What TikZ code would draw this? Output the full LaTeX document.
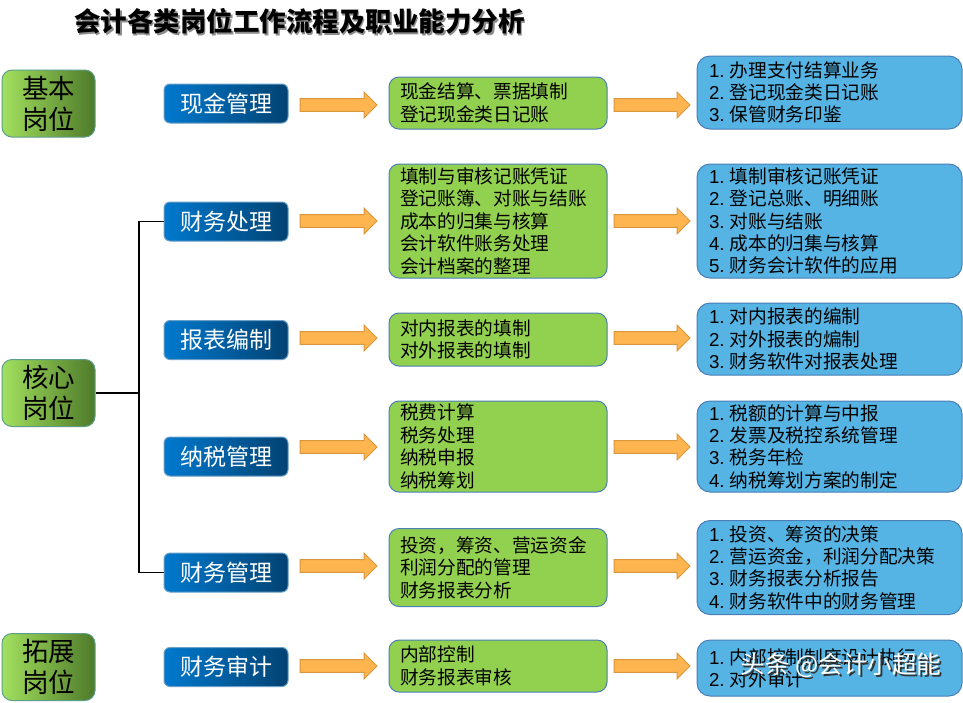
\documentclass[tikz,border=0pt]{standalone}
\usepackage{fontspec}
\setmainfont{Noto Sans CJK SC}
\newfontfamily\latfont{Liberation Sans}
\newcommand{\nm}[1]{{\latfont #1.}\hspace{5pt}}
\definecolor{catL}{HTML}{A2E05E}
\definecolor{catR}{HTML}{4E7A2A}
\definecolor{catB}{HTML}{5C9E8A}
\definecolor{dbL}{HTML}{0079CE}
\definecolor{dbR}{HTML}{024272}
\definecolor{dbB}{HTML}{6A9FC8}
\definecolor{grF}{HTML}{92D050}
\definecolor{boxB}{HTML}{4A7EB5}
\definecolor{lbF}{HTML}{56B4E4}
\definecolor{arF}{HTML}{FFB54F}
\definecolor{arB}{HTML}{D9963A}
\newcommand{\myarrow}[3]{%
  \draw[blockarr] (#1,#3-6.3) -- (#2-13,#3-6.3) -- (#2-13,#3-13) -- (#2,#3)
    -- (#2-13,#3+13) -- (#2-13,#3+6.3) -- (#1,#3+6.3) -- cycle;}
\tikzset{
  catbox/.style={draw=catB, line width=1pt, rounded corners=10pt, left color=catL, right color=catR,
    minimum width=93pt, minimum height=67pt, inner sep=0pt, align=center,
    font=\fontsize{26.5}{31}\selectfont},
  darkbox/.style={draw=dbB, line width=1pt, rounded corners=6pt, left color=dbL, right color=dbR,
    minimum width=124pt, minimum height=39pt, inner sep=0pt, text=white,
    font=\fontsize{23}{28}\selectfont},
  greenbox/.style={draw=boxB, line width=1pt, rounded corners=10pt, fill=grF,
    minimum width=218pt, inner xsep=11pt, inner ysep=0pt, text width=196pt, align=left,
    font=\fontsize{18.7}{22.5}\selectfont},
  lbbox/.style={draw=boxB, line width=1pt, rounded corners=13pt, fill=lbF,
    minimum width=265pt, inner xsep=12pt, inner ysep=0pt, text width=241pt, align=left,
    font=\fontsize{18.7}{22.3}\selectfont},
  blockarr/.style={draw=arB, line width=1pt, fill=arF, line join=miter},
  conn/.style={draw=black, line width=1.4pt}
}
\begin{document}
\begin{tikzpicture}[x=1pt,y=-1pt]
\useasboundingbox[fill=white] (0,0) rectangle (963,702);
% title
\node[font=\fontsize{26.5}{30}\selectfont\bfseries, text=black!45] (tshadow) at (301,23.5) {会计各类岗位工作流程及职业能力分析};
\node[font=\fontsize{26.5}{30}\selectfont\bfseries] (title) at (299.5,21) {会计各类岗位工作流程及职业能力分析};
% categories
\node[catbox] (c1) at (48.5,103.5) {基本\\岗位};
\node[catbox] (c2) at (48.5,393) {核心\\岗位};
\node[catbox] (c3) at (48.5,667) {拓展\\岗位};
% dark blue boxes
\node[darkbox] (d1) at (226,103.5) {现金管理};
\node[darkbox] (d2) at (226,221.5) {财务处理};
\node[darkbox] (d3) at (226,340) {报表编制};
\node[darkbox] (d4) at (226,456.5) {纳税管理};
\node[darkbox] (d5) at (226,572.5) {财务管理};
\node[darkbox] (d6) at (226,667) {财务审计};
% connectors
\coordinate (j) at (139,393);
\draw[conn] (c2.east) -- (j);
\draw[conn] (d2.west) -| (j) |- (d5.west);
% green boxes
\node[greenbox, minimum height=52pt] (g1) at (498,103) {现金结算、票据填制\\登记现金类日记账};
\node[greenbox, minimum height=114pt] (g2) at (498,221) {填制与审核记账凭证\\登记账簿、对账与结账\\成本的归集与核算\\会计软件账务处理\\会计档案的整理};
\node[greenbox, minimum height=53pt] (g3) at (498,339.5) {对内报表的填制\\对外报表的填制};
\node[greenbox, minimum height=91pt] (g4) at (498,446.5) {税费计算\\税务处理\\纳税申报\\纳税筹划};
\node[greenbox, minimum height=78pt] (g5) at (498,567.5) {投资，筹资、营运资金\\利润分配的管理\\财务报表分析};
\node[greenbox, minimum height=52pt] (g6) at (498,666) {内部控制\\财务报表审核};
% light blue boxes
\node[lbbox, minimum height=73pt] (b1) at (829.5,92.5) {\nm1办理支付结算业务\\\nm2登记现金类日记账\\\nm3保管财务印鉴};
\node[lbbox, minimum height=114pt] (b2) at (829.5,221) {\nm1填制审核记账凭证\\\nm2登记总账、明细账\\\nm3对账与结账\\\nm4成本的归集与核算\\\nm5财务会计软件的应用};
\node[lbbox, minimum height=72pt] (b3) at (829.5,339) {\nm1对内报表的编制\\\nm2对外报表的煸制\\\nm3财务软件对报表处理};
\node[lbbox, minimum height=91pt] (b4) at (829.5,446.5) {\nm1税额的计算与中报\\\nm2发票及税控系统管理\\\nm3税务年检\\\nm4纳税筹划方案的制定};
\node[lbbox, minimum height=94pt] (b5) at (829.5,567.5) {\nm1投资、筹资的决策\\\nm2营运资金，利润分配决策\\\nm3财务报表分析报告\\\nm4财务软件中的财务管理};
\node[lbbox, minimum height=56pt] (b6) at (829.5,668) {\nm1内部控制制度设计执行\\\nm2对外审计};
% block arrows
\foreach \yy in {105,221,338,447,566,666} {
  \myarrow{300}{377}{\yy}
  \myarrow{614}{690}{\yy}
}
% watermark
\node[font=\fontsize{24.5}{28}\selectfont, text=black!80] (wms) at (843,667.5) {头条 @会计小超能};
\node[font=\fontsize{24.5}{28}\selectfont, text=white] (wm) at (841,665.5) {头条 @会计小超能};
\end{tikzpicture}
\end{document}
